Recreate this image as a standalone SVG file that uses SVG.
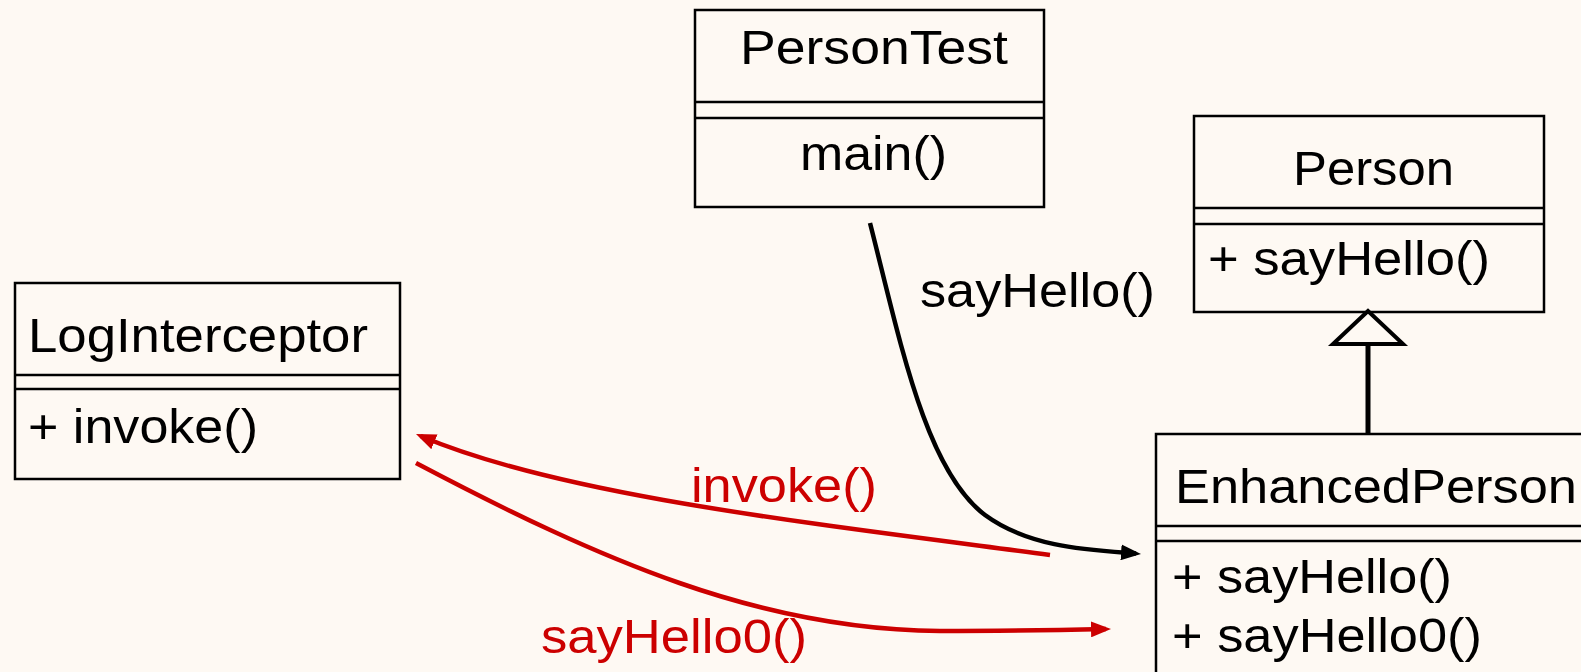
<svg xmlns="http://www.w3.org/2000/svg" width="1581" height="672" viewBox="0 0 1581 672">
  <style>
    .box { fill: #FEF9F3; stroke: #000; stroke-width: 2.5; }
    .div { stroke: #000; stroke-width: 2.5; }
    .t { font-family: "Liberation Sans", Arial, sans-serif; font-size: 48px; fill: #000; }
    .red { fill: #CC0000; }
    .call { fill: none; stroke: #000; stroke-width: 4.5; }
    .callRed { fill: none; stroke: #CC0000; stroke-width: 4.5; }
  </style>
  <defs>
    <marker id="arrowBlack" viewBox="0 0 20 16" refX="15" refY="8" markerWidth="20" markerHeight="16" markerUnits="userSpaceOnUse" orient="auto">
      <path d="M0,0 L20,8 L0,16 z" fill="#000"/>
    </marker>
    <marker id="arrowRed" viewBox="0 0 20 16" refX="15" refY="8" markerWidth="20" markerHeight="16" markerUnits="userSpaceOnUse" orient="auto">
      <path d="M0,0 L20,8 L0,16 z" fill="#CC0000"/>
    </marker>
  </defs>

  <rect width="1581" height="672" fill="#FEF9F3"/>

  <!-- PersonTest class -->
  <g id="PersonTest">
    <rect class="box" x="695" y="10" width="349" height="197"/>
    <line class="div" x1="695" y1="102" x2="1044" y2="102"/>
    <line class="div" x1="695" y1="118" x2="1044" y2="118"/>
    <text class="t" x="740" y="64" textLength="268" lengthAdjust="spacingAndGlyphs">PersonTest</text>
    <text class="t" x="800" y="170" textLength="147" lengthAdjust="spacingAndGlyphs">main()</text>
  </g>

  <!-- Person class -->
  <g id="Person">
    <rect class="box" x="1194" y="116" width="350" height="196"/>
    <line class="div" x1="1194" y1="208" x2="1544" y2="208"/>
    <line class="div" x1="1194" y1="224" x2="1544" y2="224"/>
    <text class="t" x="1293" y="185" textLength="161" lengthAdjust="spacingAndGlyphs">Person</text>
    <text class="t" x="1208" y="275" textLength="282" lengthAdjust="spacingAndGlyphs">+ sayHello()</text>
  </g>

  <!-- LogInterceptor class -->
  <g id="LogInterceptor">
    <rect class="box" x="15" y="283" width="385" height="196"/>
    <line class="div" x1="15" y1="375" x2="400" y2="375"/>
    <line class="div" x1="15" y1="389" x2="400" y2="389"/>
    <text class="t" x="28" y="352" textLength="340" lengthAdjust="spacingAndGlyphs">LogInterceptor</text>
    <text class="t" x="28" y="443" textLength="230" lengthAdjust="spacingAndGlyphs">+ invoke()</text>
  </g>

  <!-- EnhancedPerson class (runs past the right edge) -->
  <g id="EnhancedPerson">
    <rect class="box" x="1156" y="434" width="460" height="260"/>
    <line class="div" x1="1156" y1="526" x2="1600" y2="526"/>
    <line class="div" x1="1156" y1="541" x2="1600" y2="541"/>
    <text class="t" x="1175" y="503" textLength="402" lengthAdjust="spacingAndGlyphs">EnhancedPerson</text>
    <text class="t" x="1172" y="593" textLength="280" lengthAdjust="spacingAndGlyphs">+ sayHello()</text>
    <text class="t" x="1172" y="652" textLength="310" lengthAdjust="spacingAndGlyphs">+ sayHello0()</text>
  </g>

  <!-- connectors -->
  <g id="connectors">
    <!-- generalization EnhancedPerson -> Person -->
    <line x1="1368" y1="344" x2="1368" y2="434" stroke="#000" stroke-width="5"/>
    <polygon points="1368,311 1333,344 1403,344" fill="#FEF9F3" stroke="#000" stroke-width="4"/>

    <!-- PersonTest calls sayHello() on EnhancedPerson -->
    <path class="call" d="M870,223 C900,340 925,470 985,515 C1030,548 1090,550 1136,553.5" marker-end="url(#arrowBlack)"/>
    <text class="t" x="920" y="307" textLength="235" lengthAdjust="spacingAndGlyphs">sayHello()</text>

    <!-- EnhancedPerson calls invoke() on LogInterceptor -->
    <path class="callRed" d="M1050,555 C800,522 560,495 420.6,436" marker-end="url(#arrowRed)"/>
    <text class="t red" x="691" y="502" textLength="186" lengthAdjust="spacingAndGlyphs">invoke()</text>

    <!-- LogInterceptor calls sayHello0() back on EnhancedPerson -->
    <path class="callRed" d="M416,463 C600,560 760,630 940,631 C1000,631 1060,630 1106,629" marker-end="url(#arrowRed)"/>
    <text class="t red" x="541" y="653" textLength="266" lengthAdjust="spacingAndGlyphs">sayHello0()</text>
  </g>
</svg>
